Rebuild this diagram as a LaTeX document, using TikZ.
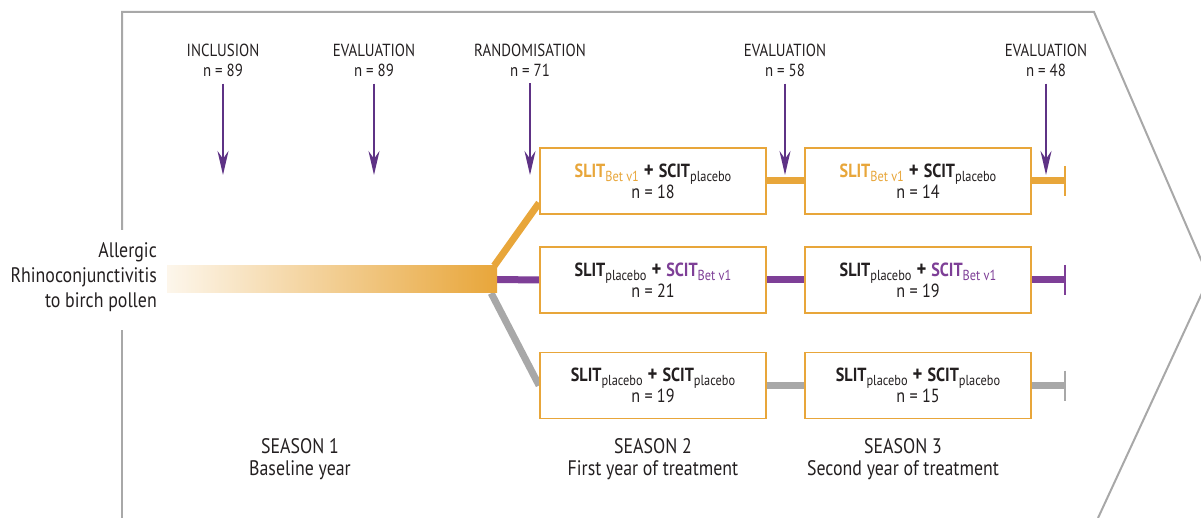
\documentclass[tikz,border=0pt]{standalone}
\usepackage{fontspec}
\setmainfont{PT Sans}[FakeStretch=0.85]
\usetikzlibrary{arrows.meta,backgrounds,calc}
\definecolor{amber}{HTML}{E8A63A}
\definecolor{plum}{HTML}{5E3285}
\definecolor{plumline}{HTML}{7E3F97}
\definecolor{ash}{HTML}{A8A8A8}
\definecolor{ink}{HTML}{231F20}
\newcommand{\lowtxt}[1]{\raisebox{-0.45ex}{\fontsize{14.5}{14.5}\selectfont\mdseries #1}}
\newcommand{\plusmark}{\hspace{5pt}{\fontsize{22}{22}\selectfont\textbf{+}}\hspace{5pt}}

\begin{document}
\begin{tikzpicture}[x=1pt,y=-1pt]
      \useasboundingbox (0,0) rectangle (1201,518);
      \tikzset{toplabel/.style = {align=center, text=ink, inner sep=0pt,
                font=\fontsize{17.5}{20}\selectfont},
               seasonlabel/.style = {align=center, text=ink, inner sep=0pt,
                font=\fontsize{21}{22}\selectfont},
               armbox/.style = {draw=amber, line width=1.8pt, fill=white,
                minimum width=226, minimum height=66, inner sep=0pt,
                align=center, text=ink, font=\fontsize{19}{21}\selectfont},
               evalarrow/.style = {plum, line width=2pt, shorten <=7pt,
                -{Stealth[length=24pt,width=11pt]}},
               arm/.style = {line width=7pt},
               endtick/.style = {line width=2pt}}

      % Frame
      \draw[ash, line width=2pt] (122,230) -- (122,12) -- (1094,12)
            -- (1209,278) -- (1098,518);
      \draw[ash, line width=2pt] (122,330) -- (122,518);

      % Time points
      \node[toplabel] (incl)  at (223,60)  {INCLUSION\\n = 89};
      \node[toplabel] (eval1) at (374,60)  {EVALUATION\\n = 89};
      \node[toplabel] (rand)  at (530,60)  {RANDOMISATION\\n = 71};
      \node[toplabel] (eval2) at (785,60)  {EVALUATION\\n = 58};
      \node[toplabel] (eval3) at (1046,60) {EVALUATION\\n = 48};
      \coordinate (tincl)  at (223,175);
      \coordinate (teval1) at (374,175);
      \coordinate (trand)  at (530,175);
      \coordinate (teval2) at (785,175);
      \coordinate (teval3) at (1046,175);
      \draw[evalarrow] (incl)  -- (tincl);
      \draw[evalarrow] (eval1) -- (teval1);
      \draw[evalarrow] (rand)  -- (trand);
      \draw[evalarrow] (eval2) -- (teval2);
      \draw[evalarrow] (eval3) -- (teval3);

      % Condition
      \node[align=right, anchor=east, text=ink, inner sep=0pt,
            font=\fontsize{21}{25}\selectfont] (cond) at (157,277)
            {Allergic\\Rhinoconjunctivitis\\to birch pollen};
      \node[minimum width=330, minimum height=27, inner sep=0pt,
            left color=amber!10, right color=amber] (pollen) at (332,279.5) {};

      % Treatment arms
      \node[armbox] (s2a) at (653,181)
            {{\color{amber}\textbf{SLIT}\lowtxt{Bet v1}}\plusmark\textbf{SCIT}\lowtxt{placebo}\\n = 18};
      \node[armbox] (s3a) at (918,181)
            {{\color{amber}\textbf{SLIT}\lowtxt{Bet v1}}\plusmark\textbf{SCIT}\lowtxt{placebo}\\n = 14};
      \node[armbox] (s2b) at (653,280)
            {\textbf{SLIT}\lowtxt{placebo}\plusmark{\color{plumline}\textbf{SCIT}\lowtxt{Bet v1}}\\n = 21};
      \node[armbox] (s3b) at (918,280)
            {\textbf{SLIT}\lowtxt{placebo}\plusmark{\color{plumline}\textbf{SCIT}\lowtxt{Bet v1}}\\n = 19};
      \node[armbox] (s2c) at (653,385.5)
            {\textbf{SLIT}\lowtxt{placebo}\plusmark\textbf{SCIT}\lowtxt{placebo}\\n = 19};
      \node[armbox] (s3c) at (918,385.5)
            {\textbf{SLIT}\lowtxt{placebo}\plusmark\textbf{SCIT}\lowtxt{placebo}\\n = 15};
      \coordinate (enda) at (1065,181);
      \coordinate (endb) at (1065,280);
      \coordinate (endc) at (1065,385.5);

      % Connections
      \begin{scope}[on background layer]
        \draw[arm, amber] ($(pollen.north east)+(-3,0)$) -- ($(s2a.south west)+(0,-12)$);
        \draw[arm, plumline] (pollen.east) -- (s2b.west);
        \draw[arm, ash] ($(pollen.south east)+(-6,0)$) -- (s2c.west);
      \end{scope}
      \draw[arm, amber] (s2a.east) -- (s3a.west);
      \draw[arm, plumline] (s2b.east) -- (s3b.west);
      \draw[arm, ash] (s2c.east) -- (s3c.west);
      \draw[arm, amber] (s3a.east) -- (enda);
      \draw[arm, plumline] (s3b.east) -- (endb);
      \draw[arm, ash] (s3c.east) -- (endc);
      \draw[endtick, amber] (enda) ++(0,-15) -- ++(0,30);
      \draw[endtick, plumline] (endb) ++(0,-15) -- ++(0,30);
      \draw[endtick, ash] (endc) ++(0,-15) -- ++(0,30);

      % Seasons
      \node[seasonlabel] (sea1) at (300,459) {SEASON 1\\Baseline year};
      \node[seasonlabel] (sea2) at (653,459) {SEASON 2\\First year of treatment};
      \node[seasonlabel] (sea3) at (903,459) {SEASON 3\\Second year of treatment};
\end{tikzpicture}
\end{document}
